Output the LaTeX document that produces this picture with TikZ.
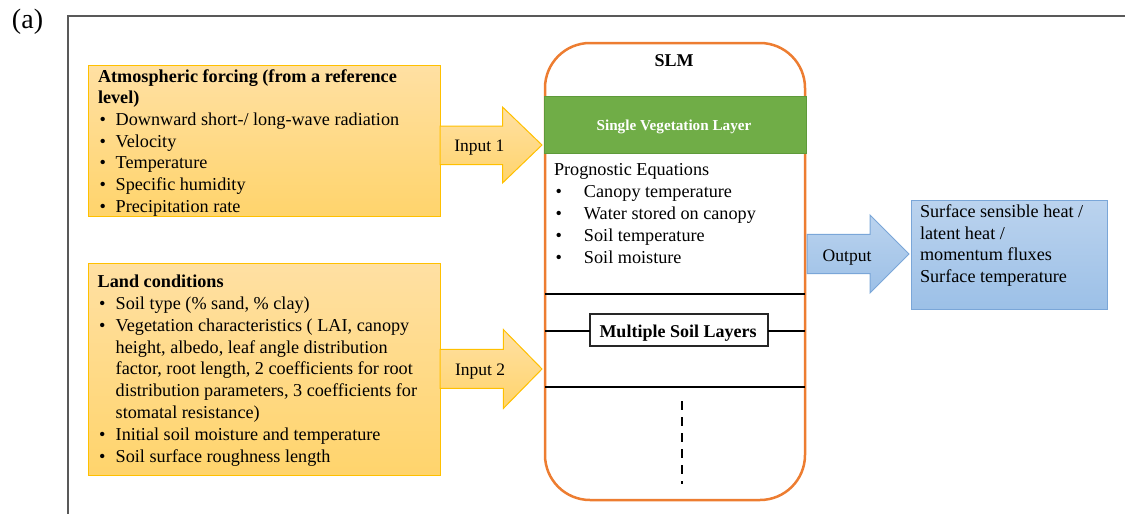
\documentclass[tikz,border=0pt]{standalone}
\usepackage{fontspec}
\setmainfont{Liberation Serif}
\definecolor{framec}{HTML}{595959}
\definecolor{ob}{HTML}{FFC000}
\definecolor{otop}{HTML}{FFE0A3}
\definecolor{obot}{HTML}{FFD46C}
\definecolor{slmc}{HTML}{ED7D31}
\definecolor{vegc}{HTML}{70AD47}
\definecolor{vegb}{HTML}{5E9A3A}
\definecolor{bb}{HTML}{7AA6D8}
\definecolor{btop}{HTML}{BBD3EE}
\definecolor{bbot}{HTML}{9CC0E7}
\newcommand\fsz[2]{\fontsize{#1}{#2}\selectfont}
\newcommand\bu[1]{\makebox[#1][l]{\hspace{1.5pt}\textbullet}}
\begin{document}
\begin{tikzpicture}[x=1pt,y=-1pt,
  inbox/.style={draw=ob,line width=1pt,top color=otop,bottom color=obot,anchor=north west,inner sep=0,outer sep=0},
  outbox/.style={draw=bb,line width=1pt,top color=btop,bottom color=bbot,anchor=north west,inner sep=0,outer sep=0},
  inarrow/.style={draw=ob,line width=1pt,top color=otop,bottom color=obot,line join=miter},
  outarrow/.style={draw=bb,line width=1pt,top color=btop,bottom color=bbot,line join=miter},
  txt/.style={anchor=base west,inner sep=0,outer sep=0},
  ctxt/.style={anchor=base,inner sep=0,outer sep=0},
  layer/.style={draw=black,line width=2.5pt},
]
\useasboundingbox (0,0) rectangle (1125,514);
% frame
\coordinate (fb) at (68,515);
\coordinate (ftl) at (68,16);
\coordinate (fr) at (1126,16);
\draw[framec,line width=2pt] (fb) -- (ftl) -- (fr);
\node[txt] (lab) at (12,28) {\fsz{28}{30}(a)};

% input boxes
\node[inbox,minimum width=352,minimum height=151] (atm) at (88,65) {};
\node[inbox,minimum width=352,minimum height=212] (land) at (88,263) {};

% SLM
\node[draw=slmc,line width=2.5pt,fill=white,rounded corners=45pt,minimum width=260,minimum height=457,anchor=north west,inner sep=0,outer sep=0] (slm) at (545,43) {};
\node[fill=vegc,draw=vegb,line width=0.8pt,minimum width=262,minimum height=57,anchor=north west,inner sep=0,outer sep=0] (veg) at (544.5,96) {};
\node[ctxt] (slmt) at (674,66) {\fsz{18}{20}\bfseries SLM};
\node[ctxt,text=white] (vegt) at (674,130) {\fsz{15.2}{16}\bfseries Single Vegetation Layer};

% layers
\node[draw=black!85,line width=1.2pt,fill=white,minimum width=178,minimum height=32,anchor=north west,inner sep=0,outer sep=0] (msl) at (590,314) {};
\node[ctxt] (mslt) at (678,337.3) {\fsz{18}{20}\bfseries Multiple Soil Layers};
\draw[layer] (slm.west |- 0,294) -- (slm.east |- 0,294);
\draw[layer] (slm.west |- 0,331) -- (msl.west |- 0,331);
\draw[layer] (msl.east |- 0,331) -- (slm.east |- 0,331);
\draw[layer] (slm.west |- 0,387) -- (slm.east |- 0,387);
\coordinate (d1) at (682,401);
\coordinate (d2) at (682,484);
\draw[black,line width=2.7pt,dash pattern=on 9pt off 7pt] (d1) -- (d2);

% output box
\node[outbox,minimum width=196,minimum height=109] (out) at (911,200) {};

% arrows
\path[inarrow] (atm.east |- 0,126) -- (502.5,126) -- (502.5,107) -- (542,145) -- (502.5,183) -- (502.5,164.5) -- (atm.east |- 0,164.5) -- cycle;
\path[inarrow] (land.east |- 0,349.3) -- (503.3,349.3) -- (503.3,329.5) -- (542,369) -- (503.3,408.5) -- (503.3,388.3) -- (land.east |- 0,388.3) -- cycle;
\path[outarrow] (807,234.3) -- (870,234.3) -- (870,215) -- (909,254) -- (870,293) -- (870,273.5) -- (807,273.5) -- cycle;
\node[txt] (in1) at (454.3,151.7) {\fsz{17.5}{20}Input 1};
\node[txt] (in2) at (455,375) {\fsz{17.5}{20}Input 2};
\node[txt] (outl) at (822.7,261) {\fsz{17.6}{20}Output};

% texts
\node[txt] (atmt) at (98,82) {\parbox[t]{345pt}{\fsz{18.2}{21.7}%
\textbf{Atmospheric forcing (from a reference}\\
\textbf{level)}\\
\bu{17.7pt}Downward short-/ long-wave radiation\\
\bu{17.7pt}Velocity\\
\bu{17.7pt}Temperature\\
\bu{17.7pt}Specific humidity\\
\bu{17.7pt}Precipitation rate}};

\node[txt] (landt) at (97.7,287.7) {\parbox[t]{345pt}{\fsz{18.2}{21.8}%
\textbf{Land conditions}\\
\bu{18pt}Soil type (\% sand, \% clay)\\
\bu{18pt}Vegetation characteristics ( LAI, canopy\\
\hspace*{18pt}height, albedo, leaf angle distribution\\
\hspace*{18pt}factor, root length, 2 coefficients for root\\
\hspace*{18pt}distribution parameters, 3 coefficients for\\
\hspace*{18pt}stomatal resistance)\\
\bu{18pt}Initial soil moisture and temperature\\
\bu{18pt}Soil surface roughness length}};

\node[txt] (progt) at (554,175.7) {\parbox[t]{250pt}{\fsz{18.2}{21.9}%
Prognostic Equations\\
\bu{30pt}Canopy temperature\\
\bu{30pt}Water stored on canopy\\
\bu{30pt}Soil temperature\\
\bu{30pt}Soil moisture}};

\node[txt] (outt) at (920,217.3) {\parbox[t]{190pt}{\fsz{18.2}{21.7}%
Surface sensible heat /\\
latent heat /\\
momentum fluxes\\
Surface temperature}};
\end{tikzpicture}
\end{document}
